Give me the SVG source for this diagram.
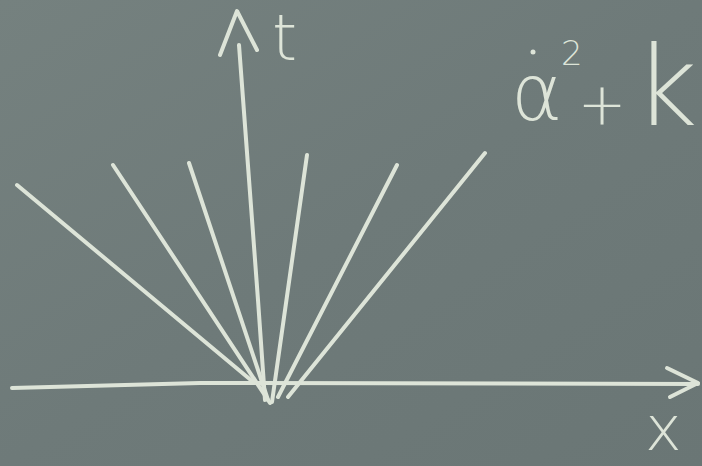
<svg xmlns="http://www.w3.org/2000/svg" width="702" height="466" viewBox="0 0 702 466">
  <defs>
    <style>
      .chalk { stroke: #dde4d8; stroke-width: 4; stroke-linecap: round; stroke-linejoin: round; fill: none; }
      .txt { fill: #dde4d8; font-family: "DejaVu Sans", "Liberation Sans", sans-serif; font-weight: 200; }
    </style>
    <linearGradient id="bg" x1="0" y1="0" x2="1" y2="1">
      <stop offset="0" stop-color="#75817f"/>
      <stop offset="0.5" stop-color="#6e7a79"/>
      <stop offset="1" stop-color="#6a7675"/>
    </linearGradient>
  </defs>
  <rect x="0" y="0" width="702" height="466" fill="url(#bg)"/>

  <g id="connectors">
    <!-- t axis -->
    <path class="chalk" d="M239,45 L258,300 L265,400"/>
    <path class="chalk" d="M220,55 L237,11 L257,50"/>
    <!-- x axis -->
    <path class="chalk" d="M12,388 L200,383 L698,384"/>
    <path class="chalk" d="M667,368 L698,383 L670,397"/>
    <!-- rays -->
    <path class="chalk" d="M17,185 L252,381"/>
    <path class="chalk" d="M113,165 L270,403"/>
    <path class="chalk" d="M189,163 L268,400"/>
    <path class="chalk" d="M307,155 L272,402"/>
    <path class="chalk" d="M397,165 L278,397"/>
    <path class="chalk" d="M485,153 L288,397"/>
  </g>

  <g id="label-t"><text class="txt" x="272" y="60" font-size="64">t</text></g>
  <g id="label-x"><text class="txt" x="645" y="450" font-size="62">x</text></g>
  <g id="formula">
    <circle cx="533" cy="52" r="2.5" fill="#dde4d8"/>
    <text class="txt" x="511" y="120" font-size="78">α</text>
    <text class="txt" x="561" y="65" font-size="34">2</text>
    <text class="txt" x="602" y="124" font-size="58" text-anchor="middle">+</text>
    <text class="txt" x="634" y="125" font-size="110">k</text>
  </g>
</svg>
